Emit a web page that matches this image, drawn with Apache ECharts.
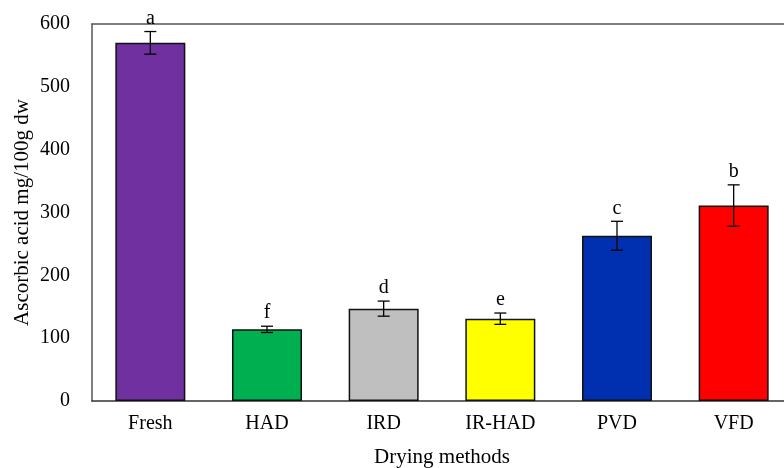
<!DOCTYPE html>
<html>
<head>
<meta charset="utf-8">
<script src="https://cdn.jsdelivr.net/npm/echarts@6/dist/echarts.min.js"></script>
<style>
  html, body { margin: 0; padding: 0; background: #fff; overflow: hidden; }
  /* the original figure is cropped on the right, so the canvas is a little wider than the window */
  #chart { width: 800px; height: 468px; }
</style>
</head>
<body>
<div id="chart"></div>
<script>
// data
const methods = ['Fresh', 'HAD', 'IRD', 'IR-HAD', 'PVD', 'VFD']
const ascorbic = [570, 114, 147, 131, 263, 311]
const errs = [18, 5, 12, 9, 23, 33]
const letters = ['a', 'f', 'd', 'e', 'c', 'b']
const barColors = ['#7030A0', '#00B050', '#BFBFBF', '#FFFF00', '#0030B0', '#FF0000']
const yTicks = [0, 100, 200, 300, 400, 500, 600]

const font = 'Liberation Serif, Times New Roman, serif'
const chart = echarts.init(document.getElementById('chart'))

const errData = methods.map((m, i) => [i, ascorbic[i], errs[i], letters[i]])

const option = {
  animation: false,
  grid: { left: 92, right: 8, top: 24, bottom: 67, outerBoundsMode: 'none' },
  xAxis: [
    {
      type: 'category',
      data: methods,
      name: 'Drying methods',
      nameLocation: 'middle',
      nameGap: 46,
      nameMoveOverlap: false,
      nameTextStyle: { fontFamily: font, fontSize: 21, color: '#000' },
      axisLine: { lineStyle: { color: '#333', width: 1.5 } },
      axisTick: { show: false },
      axisLabel: { fontFamily: font, fontSize: 20, color: '#000', margin: 13 }
    },
    {
      // top frame line
      type: 'category',
      data: methods,
      position: 'top',
      axisLine: { show: true, lineStyle: { color: '#555', width: 1.5 } },
      axisTick: { show: false },
      axisLabel: { show: false }
    }
  ],
  yAxis: {
    type: 'value',
    min: yTicks[0],
    max: yTicks[yTicks.length - 1],
    interval: 100,
    name: 'Ascorbic acid mg/100g dw',
    nameLocation: 'middle',
    nameGap: 59,
    nameMoveOverlap: false,
    nameTextStyle: { fontFamily: font, fontSize: 21, color: '#000' },
    axisLine: { show: true, lineStyle: { color: '#555', width: 1.5 } },
    axisTick: { show: false },
    splitLine: { show: false },
    axisLabel: { fontFamily: font, fontSize: 20, color: '#000', margin: 22 }
  },
  series: [
    {
      type: 'bar',
      barCategoryGap: '40%',
      data: ascorbic.map((v, i) => ({
        value: v,
        itemStyle: { color: barColors[i], borderColor: '#111', borderWidth: 1.5 }
      }))
    },
    {
      type: 'custom',
      data: errData,
      z: 10,
      renderItem: function (params, api) {
        const x = api.value(0)
        const v = api.value(1)
        const e = api.value(2)
        const hi = api.coord([x, v + e])
        const lo = api.coord([x, v - e])
        const cap = 6
        const style = { stroke: '#000', lineWidth: 1.3 }
        return {
          type: 'group',
          children: [
            { type: 'line', shape: { x1: hi[0], y1: hi[1], x2: lo[0], y2: lo[1] }, style },
            { type: 'line', shape: { x1: hi[0] - cap, y1: hi[1], x2: hi[0] + cap, y2: hi[1] }, style },
            { type: 'line', shape: { x1: lo[0] - cap, y1: lo[1], x2: lo[0] + cap, y2: lo[1] }, style },
            {
              type: 'text',
              style: {
                text: api.value(3),
                x: hi[0], y: hi[1] - 3,
                align: 'center', verticalAlign: 'bottom',
                font: '20px ' + font, fill: '#000'
              }
            }
          ]
        }
      }
    }
  ]
}
chart.setOption(option)
</script>
</body>
</html>
